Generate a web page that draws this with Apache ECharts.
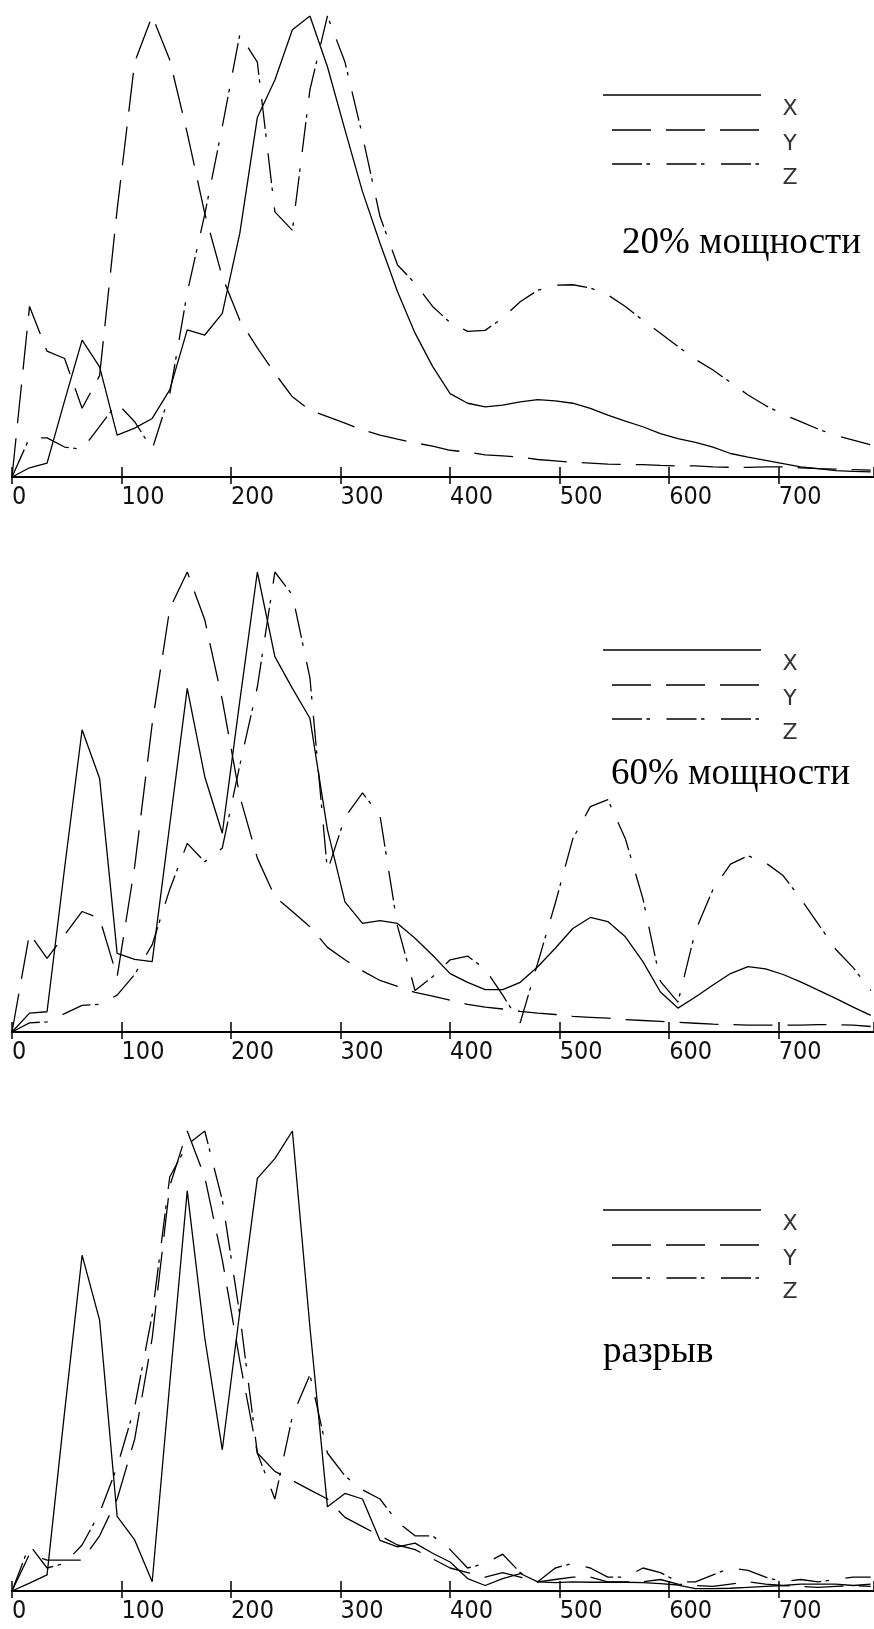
<!DOCTYPE html>
<html>
<head>
<meta charset="utf-8">
<script src="https://cdn.jsdelivr.net/npm/echarts@6/dist/echarts.min.js"></script>
<style>
  html, body { margin: 0; padding: 0; background: #fff; }
  #main { width: 874px; height: 1629px; }
</style>
</head>
<body>
<div id="main"></div>
<script>
// частоты (шаг 16)
let freq = [0,16,32,48,64,80,96,112,128,144,160,176,192,208,224,240,256,272,288,304,
	320,336,352,368,384,400,416,432,448,464,480,496,512,528,544,560,576,592,608,624,
	640,656,672,688,704,720,736,752,768,784];
let xTicks = [0,100,200,300,400,500,600,700];
let titles = ['20% мощности', '60% мощности', 'разрыв'];
let names = ['X', 'Y', 'Z'];

// 20% мощности
let p1x = [0,0.02,0.03,0.165,0.297,0.239,0.091,0.106,0.127,0.189,0.319,0.308,0.355,0.529,0.78,0.861,0.97,1.0,0.89,0.753,
	0.619,0.507,0.402,0.312,0.24,0.181,0.16,0.152,0.156,0.163,0.168,0.165,0.16,0.149,0.134,0.121,0.109,0.094,0.083,0.075,
	0.065,0.051,0.043,0.036,0.029,0.022,0.018,0.014,0.012,0.011];
let p1y = [0,0.37,0.273,0.257,0.149,0.22,0.58,0.9,1.0,0.905,0.746,0.572,0.434,0.34,0.28,0.225,0.174,0.145,0.131,0.117,
	0.102,0.091,0.082,0.074,0.067,0.058,0.054,0.048,0.046,0.043,0.038,0.035,0.032,0.03,0.028,0.027,0.027,0.025,0.024,0.024,
	0.022,0.021,0.021,0.022,0.022,0.02,0.018,0.017,0.016,0.015];
let p1z = [0,0.085,0.085,0.065,0.06,0.11,0.16,0.12,0.06,0.18,0.4,0.57,0.76,0.96,0.9,0.575,0.535,0.84,1.0,0.9,
	0.74,0.565,0.46,0.42,0.37,0.335,0.316,0.318,0.345,0.38,0.405,0.416,0.417,0.41,0.395,0.37,0.34,0.312,0.283,0.255,
	0.232,0.205,0.178,0.155,0.136,0.12,0.104,0.09,0.08,0.07];

// 60% мощности
let p2x = [0,0.041,0.044,0.356,0.657,0.551,0.171,0.158,0.153,0.45,0.747,0.555,0.432,0.72,1.0,0.816,0.747,0.682,0.44,0.283,
	0.236,0.242,0.236,0.204,0.167,0.127,0.108,0.092,0.092,0.108,0.142,0.182,0.225,0.249,0.24,0.207,0.153,0.087,0.052,0.076,
	0.102,0.127,0.142,0.137,0.125,0.109,0.091,0.073,0.054,0.036];
let p2y = [0,0.214,0.16,0.211,0.262,0.247,0.12,0.36,0.67,0.92,1.0,0.896,0.722,0.512,0.378,0.294,0.262,0.229,0.184,0.157,
	0.133,0.112,0.099,0.086,0.078,0.069,0.06,0.054,0.05,0.045,0.041,0.038,0.034,0.032,0.03,0.027,0.025,0.023,0.021,0.019,
	0.017,0.016,0.015,0.015,0.015,0.015,0.016,0.016,0.015,0.012];
let p2z = [0,0.02,0.022,0.04,0.058,0.06,0.08,0.125,0.19,0.31,0.41,0.37,0.4,0.58,0.75,1.0,0.95,0.77,0.35,0.467,
	0.52,0.47,0.23,0.09,0.12,0.157,0.165,0.137,0.08,0.02,0.15,0.28,0.42,0.49,0.505,0.42,0.29,0.11,0.065,0.22,
	0.31,0.365,0.383,0.368,0.34,0.29,0.235,0.18,0.14,0.09];

// разрыв
let p3x = [0,0.017,0.035,0.389,0.73,0.589,0.162,0.111,0.02,0.45,0.87,0.55,0.307,0.607,0.897,0.94,1.0,0.574,0.183,0.212,
	0.2,0.11,0.096,0.104,0.082,0.063,0.027,0.012,0.027,0.038,0.02,0.018,0.02,0.019,0.019,0.019,0.018,0.016,0.013,0.005,
	0.005,0.006,0.008,0.01,0.012,0.015,0.015,0.015,0.012,0.015];
let p3y = [0,0.08,0.067,0.067,0.067,0.12,0.2,0.33,0.55,0.88,1.0,0.9,0.72,0.5,0.3,0.26,0.24,0.22,0.2,0.16,
	0.14,0.12,0.1,0.09,0.07,0.05,0.04,0.03,0.04,0.03,0.02,0.025,0.03,0.03,0.02,0.02,0.02,0.025,0.015,0.012,
	0.01,0.015,0.02,0.015,0.012,0.01,0.008,0.01,0.012,0.01];
let p3z = [0,0.1,0.05,0.06,0.1,0.17,0.27,0.4,0.6,0.9,0.97,1.0,0.85,0.6,0.3,0.2,0.38,0.47,0.3,0.25,
	0.22,0.2,0.15,0.12,0.12,0.09,0.05,0.06,0.08,0.04,0.02,0.05,0.06,0.05,0.03,0.03,0.05,0.04,0.02,0.02,
	0.035,0.05,0.045,0.03,0.02,0.025,0.02,0.025,0.03,0.03];

let panels = [[p1x, p1y, p1z], [p2x, p2y, p2z], [p3x, p3y, p3z]];

// сетки и стили
let gridTops = [16, 572, 1131];
let gridHeights = [461, 460, 460];
let dashes = ['solid', [39, 15], [30, 4.5, 3.5, 16.5]];
// легенда: y линий X, Y, Z
let legendY = [[95, 130, 164], [650, 685, 719], [1210, 1245, 1278]];
let titleY = [243, 774, 1352];
let titleX = [622, 611, 603];

let chart = echarts.init(document.getElementById('main'));

let grids = [], xAxes = [], yAxes = [], series = [], graphics = [];

gridTops.forEach(function (top, i) {
	grids.push({ left: 12, width: 862, top: top, height: gridHeights[i] });
	// ось с подписями и нижней частью рисок
	xAxes.push({
		type: 'value', gridIndex: i, position: 'bottom', min: 0, max: 787, interval: 100,
		axisLine: { lineStyle: { color: '#000', width: 2 } },
		axisTick: { show: true, length: 7, inside: false, lineStyle: { color: '#000', width: 1.5 } },
		axisLabel: {
			margin: 8, align: 'left', color: '#111', fontSize: 25,
			fontFamily: "'Liberation Sans Narrow', 'DejaVu Sans Condensed', sans-serif",
			showMaxLabel: false,
			formatter: function (v) { return xTicks.indexOf(v) >= 0 ? String(v) : ''; }
		},
		splitLine: { show: false }
	});
	// верхняя часть рисок
	xAxes.push({
		type: 'value', gridIndex: i, position: 'bottom', min: 0, max: 787, interval: 100,
		axisLine: { show: false },
		axisTick: { show: true, length: 10, inside: true, lineStyle: { color: '#000', width: 1.5 } },
		axisLabel: { show: false },
		splitLine: { show: false }
	});
	yAxes.push({ type: 'value', gridIndex: i, min: 0, max: 1, show: false });

	panels[i].forEach(function (vals, k) {
		series.push({
			name: names[k],
			type: 'line',
			xAxisIndex: i * 2,
			yAxisIndex: i,
			data: freq.map(function (f, j) { return [f, vals[j]]; }),
			symbol: 'none',
			silent: true,
			lineStyle: { color: '#000', width: 1.3, type: dashes[k] }
		});

		// легенда
		let ly = legendY[i][k];
		graphics.push({
			type: 'line',
			shape: { x1: k === 0 ? 603 : 612, y1: ly, x2: 761, y2: ly },
			style: { stroke: '#000', lineWidth: 1.5, lineDash: k === 0 ? null : dashes[k] }
		});
		graphics.push({
			type: 'text',
			x: 790, y: ly + 14,
			style: {
				text: names[k], fill: '#333', font: '22px "DejaVu Sans", sans-serif',
				textAlign: 'center', textVerticalAlign: 'middle'
			}
		});
	});

	graphics.push({
		type: 'text',
		x: titleX[i], y: titleY[i],
		style: {
			text: titles[i], fill: '#000', font: '37px "Liberation Serif", "Times New Roman", serif',
			textAlign: 'left', textVerticalAlign: 'middle'
		}
	});
});

chart.setOption({
	animation: false,
	backgroundColor: '#fff',
	grid: grids,
	xAxis: xAxes,
	yAxis: yAxes,
	series: series,
	graphic: graphics
});
</script>
</body>
</html>
